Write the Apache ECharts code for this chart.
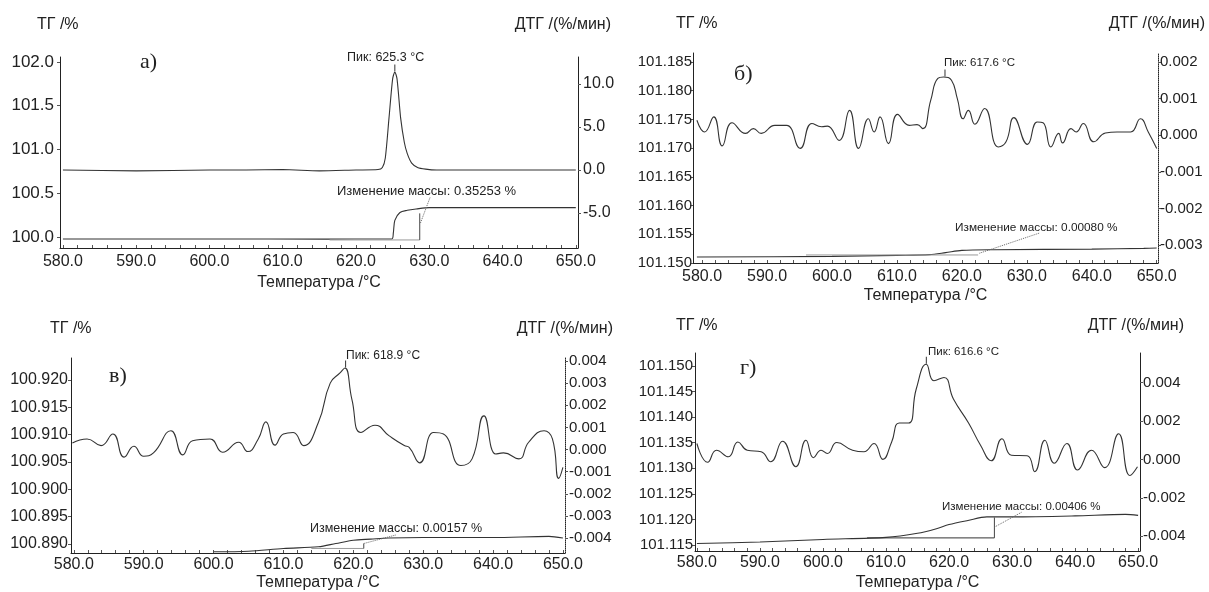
<!DOCTYPE html>
<html>
<head>
<meta charset="utf-8">
<script src="https://cdn.jsdelivr.net/npm/echarts@6.0.0/dist/echarts.min.js"></script>
<style>
html, body { margin: 0; padding: 0; background: #fff; }
#chart { width: 1209px; height: 592px; }
</style>
</head>
<body>
<div id="chart"></div>
<script>
// ---- data ----
// панель а)
const dtgA_T = [580, 590, 600, 605, 610, 615, 620, 623.0, 623.6, 624.0, 624.5, 625.0, 625.3, 625.6, 626.1, 626.6, 627.0, 627.6, 628.4, 629.5, 631, 640, 650];
const dtgA_V = [0.0, -0.1, 0.0, 0.0, 0.05, -0.1, 0.0, 0.05, 0.3, 1.4, 6.0, 10.6, 11.4, 10.6, 6.0, 3.2, 1.9, 0.8, 0.3, 0.1, 0.0, 0.0, 0.0];
const tgA_T = [580, 600, 616, 624.9, 625.1, 625.3, 626.0, 627.0, 628.2, 630, 640, 650];
const tgA_V = [99.977, 99.977, 99.976, 99.978, 100.05, 100.19, 100.28, 100.305, 100.32, 100.335, 100.335, 100.335];

// панель б)
const dtgB_T = [579.2, 580.4, 581.8, 583.1, 584.6, 586.7, 587.9, 589.1, 591.2, 593.0, 595.1, 596.9, 598.4, 599.3, 601.1, 602.7, 604.1, 605.6, 606.5, 607.4, 608.7, 610.1, 611.9, 613.1, 614.0, 615.2, 616.3, 617.2, 618.4, 619.3, 620.2, 621.0, 622.0, 623.5, 625.6, 626.8, 628.0, 630.1, 631.6, 632.5, 633.7, 634.9, 635.5, 636.8, 637.6, 638.7, 640.3, 642.1, 643.9, 646.0, 647.5, 648.7, 650.0];
const dtgB_V = [0.00041, 0.00009, 0.0005, -0.00029, 0.00034, 0.00005, 0.00018, 0.00005, 0.00027, 0.00027, -0.00036, 0.00032, 0.00023, 0.00025, -0.00014, 0.00068, -0.00036, 0.00045, 0.00009, 0.0005, -0.00023, 0.00057, 0.00027, 0.00029, 0.00018, 0.00095, 0.00155, 0.00159, 0.0015, 0.001, 0.00045, 0.00068, 0.0003, 0.00073, -0.00032, -0.00018, 0.00048, -0.00025, 0.00036, 0.00034, -0.00032, 0.00005, -0.00021, 0.00018, 0.00009, 0.00032, -0.00018, 0.00006, 0.00009, 0.00009, 0.00045, 0.00009, -0.00036];
const tgB_T = [579.2, 600, 610, 615, 617.5, 620, 625, 640, 648, 650];
const tgB_V = [101.15104, 101.15116, 101.15133, 101.15145, 101.1518, 101.1522, 101.15232, 101.15242, 101.15255, 101.1526];

// панель в)
const dtgC_T = [579.8, 581.9, 583.9, 585.6, 587.2, 588.6, 590.0, 591.4, 593.9, 595.6, 597.0, 599.5, 601.3, 603.6, 604.9, 606.4, 607.5, 608.8, 610.0, 611.4, 612.9, 615.0, 616.7, 618.1, 618.8, 619.8, 621.1, 623.1, 625.1, 627.3, 628.0, 629.5, 631.5, 632.9, 635.4, 637.0, 638.7, 640.4, 641.5, 643.7, 645.1, 647.3, 648.5, 649.4, 650.0];
const dtgC_V = [0.0003, 0.00048, 0.00018, 0.0007, -0.00034, 0.00015, -0.0003, -0.00015, 0.00085, -0.00024, 0.0004, 0.00048, -0.00012, 0.00033, -0.00009, 0.00048, 0.00125, 0.0002, 0.0007, 0.00077, 0.00018, 0.00122, 0.003, 0.00346, 0.00368, 0.00227, 0.00077, 0.0011, 0.00063, 0.00018, 0.0001, -0.0006, 0.00077, 0.0007, -0.00072, -0.00042, 0.00152, -0.0002, -0.00015, -0.00042, 0.00033, 0.00085, 0.00048, -0.0013, -0.0008];
const tgC_T = [600, 605, 610, 615, 617.5, 620, 622.5, 625, 630, 640, 648, 650];
const tgC_V = [100.8886, 100.8887, 100.8892, 100.8895, 100.8901, 100.8907, 100.8909, 100.8911, 100.8912, 100.8912, 100.8914, 100.8911];

// панель г)
const dtgD_T = [580.0, 581.7, 583.1, 585.0, 586.5, 588.0, 590.2, 591.7, 593.6, 595.7, 597.3, 598.5, 599.7, 600.7, 602.2, 604.7, 606.5, 608.1, 609.5, 610.9, 612.1, 613.6, 614.8, 616.4, 617.6, 619.2, 620.7, 623.1, 625.0, 626.7, 628.4, 629.9, 632.4, 633.6, 635.2, 636.7, 638.7, 640.4, 642.6, 644.7, 646.9, 648.7, 649.9];
const dtgD_V = [0.00083, -0.00015, 0.00048, 0.00014, 0.00091, 0.00048, 0.0004, -0.00012, 0.00095, -0.00038, 0.001, 0.00009, 0.00048, 0.00031, 0.00088, 0.00048, 0.0004, 0.00083, 0.0, 0.00091, 0.0019, 0.0019, 0.00367, 0.00496, 0.0041, 0.00427, 0.00315, 0.0019, 0.00074, -0.00007, 0.00108, 0.00022, 0.00019, -0.00064, 0.001, -0.0002, 0.00083, -0.00055, 0.00048, -0.00043, 0.00134, -0.00084, -0.00038];
const tgD_T = [580, 590, 600, 610, 615, 618, 620, 623, 626, 630, 640, 648, 650];
const tgD_V = [101.1153, 101.1156, 101.1161, 101.1165, 101.1173, 101.1182, 101.119, 101.1198, 101.1205, 101.1205, 101.1207, 101.121, 101.1208];

// tick labels
const xTicks = [580, 590, 600, 610, 620, 630, 640, 650];
const xMinor = [582, 584, 586, 588, 592, 594, 596, 598, 602, 604, 606, 608, 612, 614, 616, 618, 622, 624, 626, 628, 632, 634, 636, 638, 642, 644, 646, 648];
const tgA_ticks = [100.0, 100.5, 101.0, 101.5, 102.0];
const dtgA_ticks = [-5, 0, 5, 10];
const tgB_ticks = [101.150, 101.155, 101.160, 101.165, 101.170, 101.175, 101.180, 101.185];
const dtgB_ticks = [-0.003, -0.002, -0.001, 0, 0.001, 0.002];
const tgC_ticks = [100.890, 100.895, 100.900, 100.905, 100.910, 100.915, 100.920];
const dtgC_ticks = [-0.004, -0.003, -0.002, -0.001, 0, 0.001, 0.002, 0.003, 0.004];
const tgD_ticks = [101.115, 101.120, 101.125, 101.130, 101.135, 101.140, 101.145, 101.150];
const dtgD_ticks = [-0.004, -0.002, 0, 0.002, 0.004];

// annotation helper lines (baseline extension, step marker, leader)
const baseA = [[616.4, 99.966], [628.7, 99.966]];
const stepA = [[628.7, 99.966], [628.7, 100.27]];
const leadA = [[630.1, 100.45], [628.8, 100.16]];
const baseB = [[596, 101.1514], [622.5, 101.1514]];
const leadB = [[622.7, 101.1517], [631.9, 101.1552]];
const baseC = [[614, 100.8892], [621.5, 100.8892]];
const stepC = [[621.5, 100.8892], [621.5, 100.8901]];
const leadC = [[621.5, 100.8901], [626.2, 100.8917]];
const baseD = [[607, 101.1164], [627.2, 101.1164]];
const stepD = [[627.2, 101.1164], [627.2, 101.1204]];
const leadD = [[627.2, 101.1185], [631.5, 101.1214]];

const peaks = [[625.3, 11.4], [617.4, 0.00159], [618.9, 0.00368], [616.4, 0.00496]];

const zip = (a, b) => a.map((t, i) => [t, b[i]]);
const sans = 'Liberation Sans, Arial, sans-serif';
const ink = '#222';
const curve = '#333';

let chart = echarts.init(document.getElementById('chart'));

const grids = [
	{ left: 60, top: 57, width: 518, height: 191 },
	{ left: 693, top: 53, width: 465, height: 210 },
	{ left: 71, top: 358, width: 494, height: 197 },
	{ left: 695, top: 353, width: 445, height: 200 }
];
const xRange = [[579.6, 650.3], [578.6, 650.2], [579.6, 650.3], [579.7, 650.3]];
const xGap = [[6, 27], [6, 25], [4, 22], [4, 24]];
const leftRange = [[99.874, 102.057], [101.150, 101.18657], [100.88837, 100.92398], [101.11384, 101.15251]];
const rightRange = [[-9.07, 13.14], [-0.00349, 0.002246], [-0.00467, 0.004134], [-0.004774, 0.005548]];
const leftTicks = [tgA_ticks, tgB_ticks, tgC_ticks, tgD_ticks];
const rightTicks = [dtgA_ticks, dtgB_ticks, dtgC_ticks, dtgD_ticks];
const digits = [1, 3, 3, 3];
const rightDotted = [false, true, true, false];
const leftFont = [17, 15, 16, 15];
const leftMargin = [6, 1, 3, 2];
const rightFont = [16, 15, 15, 15];
const rightMargin = [5, 2, 4, 3];

let xAxis = [], yAxis = [];
grids.forEach((g, i) => {
	xAxis.push({
		type: 'value', gridIndex: i, min: xRange[i][0], max: xRange[i][1],
		name: 'Температура /°C', nameLocation: 'middle', nameGap: xGap[i][1],
		nameTextStyle: { fontFamily: sans, fontSize: 16, color: ink },
		axisLine: { onZero: false, lineStyle: { color: ink, width: 1 } },
		axisTick: { customValues: xTicks.concat(xMinor), inside: true, length: 3, lineStyle: { color: '#555' } },
		axisLabel: { customValues: xTicks, margin: xGap[i][0], fontFamily: sans, fontSize: 16, color: ink, formatter: v => v.toFixed(1) },
		splitLine: { show: false }
	});
	yAxis.push({
		type: 'value', gridIndex: i, position: 'left', min: leftRange[i][0], max: leftRange[i][1],
		axisLine: { show: true, onZero: false, lineStyle: { color: ink, width: 1 } },
		axisTick: { customValues: leftTicks[i], length: 3, lineStyle: { color: '#555' } },
		axisLabel: { customValues: leftTicks[i], margin: leftMargin[i], fontFamily: sans, fontSize: leftFont[i], color: ink, formatter: v => v.toFixed(digits[i]) },
		splitLine: { show: false }
	});
	yAxis.push({
		type: 'value', gridIndex: i, position: 'right', min: rightRange[i][0], max: rightRange[i][1],
		axisLine: { show: true, onZero: false, lineStyle: { color: ink, width: 1, type: rightDotted[i] ? 'dotted' : 'solid' } },
		axisTick: { customValues: rightTicks[i], length: 3, lineStyle: { color: '#555' } },
		axisLabel: { customValues: rightTicks[i], margin: rightMargin[i], fontFamily: sans, fontSize: rightFont[i], color: ink, formatter: v => v.toFixed(i === 0 ? 1 : 3) },
		splitLine: { show: false }
	});
});

function lineSeries(gi, yi, data, opt) {
	return Object.assign({
		type: 'line', xAxisIndex: gi, yAxisIndex: yi, data: data,
		symbol: 'none', silent: true, animation: false,
		lineStyle: { color: curve, width: 1.1 }
	}, opt || {});
}

const dtgSets = [zip(dtgA_T, dtgA_V), zip(dtgB_T, dtgB_V), zip(dtgC_T, dtgC_V), zip(dtgD_T, dtgD_V)];
const tgSets = [zip(tgA_T, tgA_V), zip(tgB_T, tgB_V), zip(tgC_T, tgC_V), zip(tgD_T, tgD_V)];
const bases = [baseA, baseB, baseC, baseD];
const steps = [stepA, null, stepC, stepD];
const leads = [leadA, leadB, leadC, leadD];

let series = [];
grids.forEach((g, i) => {
	series.push(lineSeries(i, i * 2 + 1, dtgSets[i], {
		smooth: i === 0 ? 0.25 : 0.5,
		markPoint: {
			silent: true, animation: false,
			symbol: 'rect', symbolSize: [1, 7], symbolOffset: [0, -4],
			itemStyle: { color: curve }, label: { show: false },
			data: [{ coord: peaks[i] }]
		}
	}));
	series.push(lineSeries(i, i * 2, tgSets[i], { smooth: 0.3 }));
	series.push(lineSeries(i, i * 2, bases[i], { lineStyle: { color: i === 3 ? '#333' : '#999', width: 1 } }));
	if (steps[i]) series.push(lineSeries(i, i * 2, steps[i], { lineStyle: { color: '#444', width: 1 } }));
	series.push(lineSeries(i, i * 2, leads[i], { lineStyle: { color: '#666', width: 1, type: 'dotted' } }));
});

function txt(x, y, text, size, align, font) {
	return {
		type: 'text', x: x, y: y, silent: true,
		style: { text: text, fontFamily: font || sans, fontSize: size, fill: ink, align: align || 'left', verticalAlign: 'middle' }
	};
}

const serif = 'Liberation Serif, Times New Roman, serif';
const graphic = [
	txt(37, 25, 'ТГ /%', 16), txt(611, 25, 'ДТГ /(%/мин)', 16, 'right'),
	txt(676, 24, 'ТГ /%', 16), txt(1205, 24, 'ДТГ /(%/мин)', 16, 'right'),
	txt(50, 329, 'ТГ /%', 16), txt(613, 329, 'ДТГ /(%/мин)', 16, 'right'),
	txt(676, 326, 'ТГ /%', 16), txt(1184, 326, 'ДТГ /(%/мин)', 16, 'right'),
	txt(140, 62, 'а)', 22, 'left', serif),
	txt(734, 74, 'б)', 22, 'left', serif),
	txt(109, 376, 'в)', 22, 'left', serif),
	txt(740, 368, 'г)', 22, 'left', serif),
	txt(347, 58, 'Пик: 625.3 °C', 12.5), txt(944, 63, 'Пик: 617.6 °C', 11.5),
	txt(346, 356, 'Пик: 618.9 °C', 12), txt(928, 352, 'Пик: 616.6 °C', 11.5),
	txt(337, 191, 'Изменение массы: 0.35253 %', 13), txt(955, 228, 'Изменение массы: 0.00080 %', 11.8),
	txt(310, 529, 'Изменение массы: 0.00157 %', 12.5), txt(942, 507, 'Изменение массы: 0.00406 %', 11.5)
];

chart.setOption({
	animation: false,
	backgroundColor: '#fff',
	grid: grids,
	xAxis: xAxis,
	yAxis: yAxis,
	series: series,
	graphic: graphic
});
</script>
</body>
</html>
